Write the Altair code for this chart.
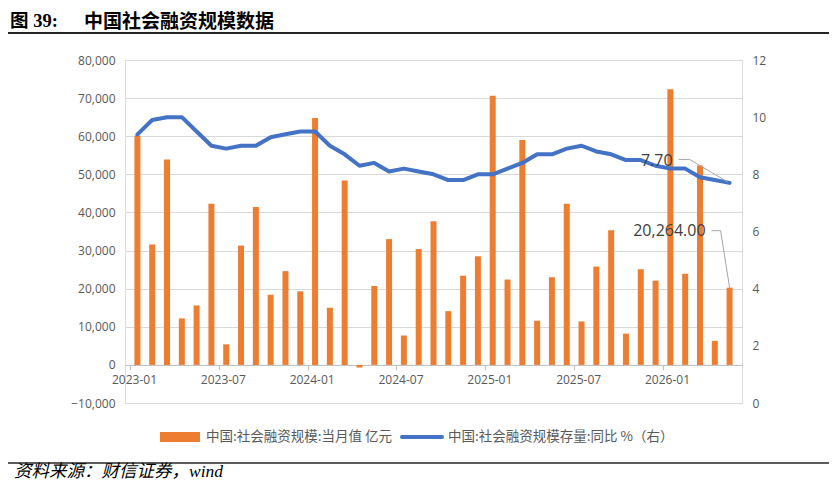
import altair as alt
import pandas as pd

# ---------------- data ----------------
months = [
    "2023-01", "2023-02", "2023-03", "2023-04", "2023-05", "2023-06",
    "2023-07", "2023-08", "2023-09", "2023-10", "2023-11", "2023-12",
    "2024-01", "2024-02", "2024-03", "2024-04", "2024-05", "2024-06",
    "2024-07", "2024-08", "2024-09", "2024-10", "2024-11", "2024-12",
    "2025-01", "2025-02", "2025-03", "2025-04", "2025-05", "2025-06",
    "2025-07", "2025-08", "2025-09", "2025-10", "2025-11", "2025-12",
    "2026-01", "2026-02", "2026-03", "2026-04", "2026-05",
]
tsf_monthly = [  # 中国:社会融资规模:当月值 亿元
    60200, 31600, 53900, 12200, 15600, 42300, 5400, 31300, 41400, 18400, 24600, 19300,
    64800, 15000, 48400, -700, 20700, 33000, 7700, 30400, 37700, 14100, 23400, 28500,
    70600, 22400, 59000, 11600, 23000, 42300, 11400, 25800, 35300, 8200, 25100, 22100,
    72300, 23900, 52300, 6300, 20264,
]
tsf_yoy = [  # 中国:社会融资规模存量:同比 %
    9.4, 9.9, 10.0, 10.0, 9.5, 9.0, 8.9, 9.0, 9.0, 9.3, 9.4, 9.5,
    9.5, 9.0, 8.7, 8.3, 8.4, 8.1, 8.2, 8.1, 8.0, 7.8, 7.8, 8.0,
    8.0, 8.2, 8.4, 8.7, 8.7, 8.9, 9.0, 8.8, 8.7, 8.5, 8.5, 8.3,
    8.2, 8.2, 7.9, 7.8, 7.7,
]
left_ticks = [-10000, 0, 10000, 20000, 30000, 40000, 50000, 60000, 70000, 80000]
right_ticks = [0, 2, 4, 6, 8, 10, 12]
series_names = ["中国:社会融资规模:当月值 亿元", "中国:社会融资规模存量:同比 %（右）"]
title_prefix = "图 39:"
title_text = "中国社会融资规模数据"
source_text = "资料来源：财信证券，wind"

# ---------------- styling ----------------
ORANGE = "#ED7D31"
BLUE = "#4472C4"
GRAY_TXT = "#595959"
NUM_FONT = "Open Sans"
CJK_FONT = "Noto Sans CJK SC"

W, H = 617, 343
PADL, PADT = 117, 52
TOTAL_W, TOTAL_H = 821, 474

df = pd.DataFrame({
    "idx": list(range(len(months))),
    "month": months,
    "tsf": tsf_monthly,
    "yoy": tsf_yoy,
})
last = df.iloc[[-1]].reset_index(drop=True)
one = pd.DataFrame({"k": [0]})

xscale = alt.Scale(domain=[-0.5, len(months) - 0.5], nice=False, zero=False)
yl_scale = alt.Scale(domain=[left_ticks[0], left_ticks[-1]], nice=False, zero=False)
yr_scale = alt.Scale(domain=[right_ticks[0], right_ticks[-1]], nice=False, zero=False)

tick_vals = [i - 0.5 for i in range(0, len(months), 6)]
month_arr = "[" + ",".join("'" + m + "'" for m in months) + "]"
label_expr = month_arr + "[round(datum.value + 0.5)]"
zero_offset = -H * (0 - left_ticks[0]) / (left_ticks[-1] - left_ticks[0])

x_axis = alt.Axis(
    values=tick_vals, labelExpr=label_expr, labelOffset=4, labelFlush=False,
    labelOverlap=False, grid=False, domainColor="#BFBFBF", tickColor="#BFBFBF",
    tickSize=5, labelPadding=5, offset=zero_offset, labelColor=GRAY_TXT,
    labelFont=NUM_FONT, labelFontSize=12, title=None,
)

bars = alt.Chart(df).mark_bar(size=6, color=ORANGE).encode(
    x=alt.X("idx:Q", scale=xscale, axis=x_axis),
    y=alt.Y("tsf:Q", scale=yl_scale, axis=alt.Axis(
        orient="left", values=left_ticks, format=",.0f", grid=True, gridColor="#D9D9D9",
        domain=False, ticks=False, labelPadding=10, labelColor=GRAY_TXT,
        labelFont=NUM_FONT, labelFontSize=12, title=None)),
)

bar_label = alt.Chart(last).mark_text(
    align="right", baseline="middle", dx=-24, dy=-57, fontSize=16,
    font=NUM_FONT, color="#404040",
).encode(
    x=alt.X("idx:Q", scale=xscale),
    y=alt.Y("tsf:Q", scale=yl_scale, axis=None),
    text=alt.Text("tsf:Q", format=",.2f"),
)
bar_lead1 = alt.Chart(last).mark_rule(
    color="#A6A6A6", strokeWidth=1, xOffset=-18, x2Offset=-9, yOffset=-57, y2Offset=-57,
).encode(
    x=alt.X("idx:Q", scale=xscale), x2="idx",
    y=alt.Y("tsf:Q", scale=yl_scale, axis=None), y2="tsf",
)
bar_lead2 = alt.Chart(last).mark_rule(
    color="#A6A6A6", strokeWidth=1, xOffset=-9, x2Offset=0, yOffset=-57, y2Offset=0,
).encode(
    x=alt.X("idx:Q", scale=xscale), x2="idx",
    y=alt.Y("tsf:Q", scale=yl_scale, axis=None), y2="tsf",
)

line = alt.Chart(df).mark_line(
    color=BLUE, strokeWidth=4, strokeCap="round", strokeJoin="round",
).encode(
    x=alt.X("idx:Q", scale=xscale),
    y=alt.Y("yoy:Q", scale=yr_scale, axis=alt.Axis(
        orient="right", values=right_ticks, format="d", grid=False, domain=False,
        ticks=False, labelPadding=10, labelColor=GRAY_TXT, labelFont=NUM_FONT,
        labelFontSize=12, title=None)),
)
line_label = alt.Chart(last).mark_text(
    align="right", baseline="middle", dx=-57, dy=-22, fontSize=16,
    font=NUM_FONT, color="#404040",
).encode(
    x=alt.X("idx:Q", scale=xscale),
    y=alt.Y("yoy:Q", scale=yr_scale, axis=None),
    text=alt.Text("yoy:Q", format=".2f"),
)
line_lead1 = alt.Chart(last).mark_rule(
    color="#A6A6A6", strokeWidth=1, xOffset=-51, x2Offset=-40, yOffset=-23.5, y2Offset=-23.5,
).encode(
    x=alt.X("idx:Q", scale=xscale), x2="idx",
    y=alt.Y("yoy:Q", scale=yr_scale, axis=None), y2="yoy",
)
line_lead2 = alt.Chart(last).mark_rule(
    color="#A6A6A6", strokeWidth=1, xOffset=-40, x2Offset=-2, yOffset=-23.5, y2Offset=-1,
).encode(
    x=alt.X("idx:Q", scale=xscale), x2="idx",
    y=alt.Y("yoy:Q", scale=yr_scale, axis=None), y2="yoy",
)

# ---------------- decorations (title, rules, legend, source) ----------------
base = alt.Chart(one)
title1 = base.mark_text(align="left", baseline="middle", fontSize=18.5, fontWeight="bold",
                        font="Liberation Serif, Noto Sans CJK SC", color="#000000").encode(
    x=alt.value(-115), y=alt.value(-39), text=alt.value(title_prefix))
title2 = base.mark_text(align="left", baseline="middle", fontSize=19, fontWeight="bold",
                        font=CJK_FONT, color="#000000").encode(
    x=alt.value(-41), y=alt.value(-38), text=alt.value(title_text))
top_rule = base.mark_rule(color="#262626", strokeWidth=2).encode(
    x=alt.value(-117), x2=alt.value(704), y=alt.value(-27))
bottom_rule = base.mark_rule(color="#262626", strokeWidth=1.5).encode(
    x=alt.value(-117), x2=alt.value(704), y=alt.value(403))
source = base.mark_text(align="left", baseline="middle", fontSize=17.5, fontStyle="italic",
                        font="Liberation Serif, Noto Sans CJK SC", color="#000000").encode(
    x=alt.value(-111), y=alt.value(412), text=alt.value(source_text))

leg_rect = base.mark_rect(color=ORANGE).encode(
    x=alt.value(35), x2=alt.value(75), y=alt.value(372), y2=alt.value(382))
leg_text1 = base.mark_text(align="left", baseline="middle", fontSize=13.5,
                           font=CJK_FONT, color=GRAY_TXT).encode(
    x=alt.value(81), y=alt.value(377), text=alt.value(series_names[0]))
leg_line = base.mark_rule(color=BLUE, strokeWidth=4, strokeCap="round").encode(
    x=alt.value(277), x2=alt.value(317), y=alt.value(377))
leg_text2 = base.mark_text(align="left", baseline="middle", fontSize=13.5,
                           font=CJK_FONT, color=GRAY_TXT).encode(
    x=alt.value(323), y=alt.value(377), text=alt.value(series_names[1]))

chart = alt.layer(
    bars, bar_label, bar_lead1, bar_lead2,
    line, line_label, line_lead1, line_lead2,
    title1, title2, top_rule, bottom_rule, source,
    leg_rect, leg_text1, leg_line, leg_text2,
).resolve_scale(y="independent").properties(
    width=W, height=H,
    autosize=alt.AutoSizeParams(type="none"),
    padding={"left": PADL, "top": PADT, "right": TOTAL_W - PADL - W, "bottom": TOTAL_H - PADT - H},
).configure_view(stroke=None).configure(background="white")

chart.save("out.html", embed_options={"renderer": "svg", "actions": False})
